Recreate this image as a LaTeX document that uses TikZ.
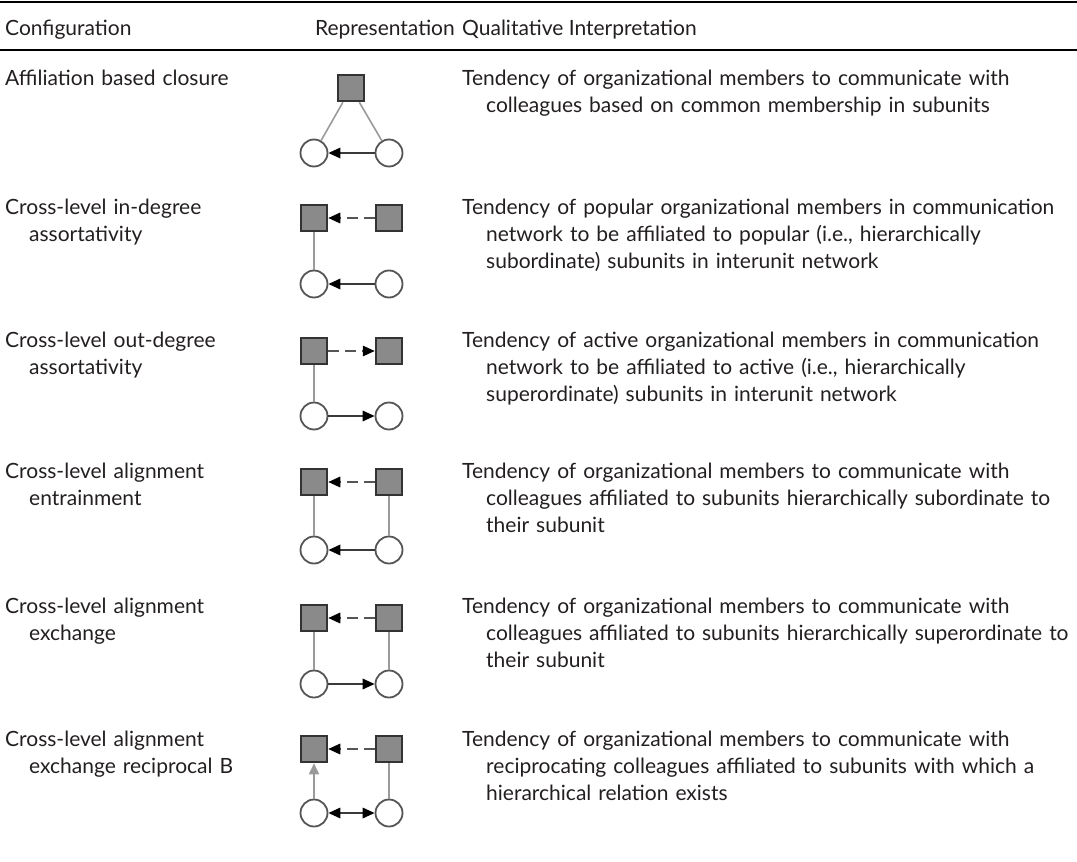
\documentclass[tikz,border=0pt]{standalone}
\usepackage{fontspec}
\setmainfont{Lato}
\usetikzlibrary{arrows.meta}
\definecolor{txt}{HTML}{231F20}
\definecolor{sqfill}{HTML}{8A8A8A}
\definecolor{sqborder}{HTML}{333333}
\definecolor{circborder}{HTML}{555555}
\definecolor{affilgray}{HTML}{9A9A9A}
\definecolor{commgray}{HTML}{3A3A3A}
\definecolor{hiergray}{HTML}{555555}
\newcommand{\rowfont}{\fontsize{21}{27}\selectfont}
\tikzset{
  celltext/.style={anchor=base west, inner sep=0pt, text width=700pt, text=txt, font=\rowfont},
  headtext/.style={anchor=base west, inner sep=0pt, text=txt, font=\rowfont},
  unitbox/.style={rectangle, draw=sqborder, fill=sqfill, line width=2pt, minimum size=26.5pt, inner sep=0pt},
  actor/.style={circle, draw=circborder, fill=white, line width=1.8pt, minimum size=27pt, inner sep=0pt},
  affil/.style={draw=affilgray, line width=1.6pt},
  affilarrow/.style={draw=affilgray, line width=1.6pt, -{Triangle[length=11pt,width=10pt,affilgray]}},
  comm/.style={draw=commgray, line width=1.8pt, -{Triangle[length=12pt,width=10.5pt,black]}},
  commboth/.style={draw=commgray, line width=1.8pt, {Triangle[length=12pt,width=10.5pt,black]}-{Triangle[length=12pt,width=10.5pt,black]}},
  hier/.style={draw=hiergray, line width=1.6pt, dash pattern=on 11pt off 6pt, -{Triangle[length=12pt,width=10.5pt,black]}},
  rulel/.style={line width=2pt, draw=black}
}
\newcommand{\hang}{\hangindent=24pt\hangafter=1 }
\begin{document}
\begin{tikzpicture}[x=1pt,y=-1pt]
\useasboundingbox (0,0) rectangle (1077,862);
\def\dx{462}
% rules
\coordinate (r1a) at (0,2); \coordinate (r1b) at (1077,2);
\coordinate (r2a) at (0,50); \coordinate (r2b) at (1077,50);
\draw[rulel] (r1a) -- (r1b);
\draw[rulel] (r2a) -- (r2b);
% header
\node[headtext] (h1) at (5,35) {Configuration};
\node[headtext, anchor=base east] (h2) at (\dx-7,35) {Representation};
\node[headtext] (h3) at (\dx,35) {Qualitative Interpretation};

% ---------- Row 1
\node[celltext] (c1) at (5,85) {\hang Affiliation based closure\par};
\node[celltext] (d1) at (\dx,85) {\hang Tendency of organizational members to communicate with\newline colleagues based on common membership in subunits\par};
\node[unitbox] (s1) at (351,88) {};
\node[actor] (a1l) at (314,153) {};
\node[actor] (a1r) at (389,153) {};
\draw[affil] (s1) -- (a1l);
\draw[affil] (s1) -- (a1r);
\draw[comm] (a1r) -- (a1l);

% ---------- Row 2
\node[celltext] (c2) at (5,214) {\hang Cross-level in-degree\newline assortativity\par};
\node[celltext] (d2) at (\dx,214) {\hang Tendency of popular organizational members in communication\newline network to be affiliated to popular (i.e., hierarchically\newline subordinate) subunits in interunit network\par};
\node[unitbox] (s2l) at (314,218) {};
\node[unitbox] (s2r) at (389,218) {};
\node[actor] (a2l) at (314,284) {};
\node[actor] (a2r) at (389,284) {};
\draw[hier] (s2r) -- (s2l);
\draw[affil] (s2l) -- (a2l);
\draw[comm] (a2r) -- (a2l);

% ---------- Row 3
\node[celltext] (c3) at (5,347) {\hang Cross-level out-degree\newline assortativity\par};
\node[celltext] (d3) at (\dx,347) {\hang Tendency of active organizational members in communication\newline network to be affiliated to active (i.e., hierarchically\newline superordinate) subunits in interunit network\par};
\node[unitbox] (s3l) at (314,351) {};
\node[unitbox] (s3r) at (389,351) {};
\node[actor] (a3l) at (314,416) {};
\node[actor] (a3r) at (389,416) {};
\draw[hier] (s3l) -- (s3r);
\draw[affil] (s3l) -- (a3l);
\draw[comm] (a3l) -- (a3r);

% ---------- Row 4
\node[celltext] (c4) at (5,478) {\hang Cross-level alignment\newline entrainment\par};
\node[celltext] (d4) at (\dx,478) {\hang Tendency of organizational members to communicate with\newline colleagues affiliated to subunits hierarchically subordinate to\newline their subunit\par};
\node[unitbox] (s4l) at (314,482) {};
\node[unitbox] (s4r) at (389,482) {};
\node[actor] (a4l) at (314,550) {};
\node[actor] (a4r) at (389,550) {};
\draw[hier] (s4r) -- (s4l);
\draw[affil] (s4l) -- (a4l);
\draw[affil] (s4r) -- (a4r);
\draw[comm] (a4r) -- (a4l);

% ---------- Row 5
\node[celltext] (c5) at (5,613) {\hang Cross-level alignment\newline exchange\par};
\node[celltext] (d5) at (\dx,613) {\hang Tendency of organizational members to communicate with\newline colleagues affiliated to subunits hierarchically superordinate to\newline their subunit\par};
\node[unitbox] (s5l) at (314,618) {};
\node[unitbox] (s5r) at (389,618) {};
\node[actor] (a5l) at (314,684) {};
\node[actor] (a5r) at (389,684) {};
\draw[hier] (s5r) -- (s5l);
\draw[affil] (s5l) -- (a5l);
\draw[affil] (s5r) -- (a5r);
\draw[comm] (a5l) -- (a5r);

% ---------- Row 6
\node[celltext] (c6) at (5,746) {\hang Cross-level alignment\newline exchange reciprocal B\par};
\node[celltext] (d6) at (\dx,746) {\hang Tendency of organizational members to communicate with\newline reciprocating colleagues affiliated to subunits with which a\newline hierarchical relation exists\par};
\node[unitbox] (s6l) at (314,749) {};
\node[unitbox] (s6r) at (389,749) {};
\node[actor] (a6l) at (314,813) {};
\node[actor] (a6r) at (389,813) {};
\draw[hier] (s6r) -- (s6l);
\draw[affilarrow] (a6l) -- (s6l);
\draw[affil] (s6r) -- (a6r);
\draw[commboth] (a6l) -- (a6r);
\end{tikzpicture}
\end{document}
